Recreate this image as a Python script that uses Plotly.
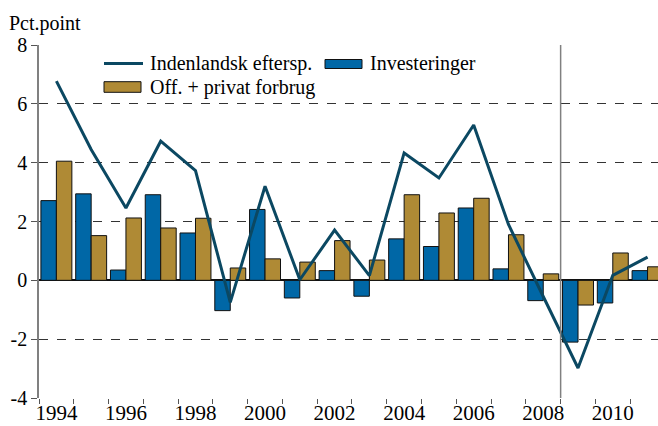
import plotly.graph_objects as go

years = list(range(1994, 2012))
investeringer = [2.71, 2.94, 0.35, 2.91, 1.61, -1.03, 2.41, -0.60, 0.33, -0.54,
                 1.41, 1.15, 2.46, 0.39, -0.69, -2.10, -0.77, 0.33]
forbrug = [4.05, 1.52, 2.12, 1.78, 2.11, 0.42, 0.73, 0.62, 1.35, 0.69,
           2.91, 2.29, 2.79, 1.55, 0.22, -0.84, 0.93, 0.46]
indenlandsk = [6.77, 4.45, 2.46, 4.73, 3.73, -0.75, 3.20, 0.02, 1.71, 0.16,
               4.33, 3.48, 5.28, 1.90, -0.55, -2.98, 0.17, 0.79]
tick_years = [1994, 1996, 1998, 2000, 2002, 2004, 2006, 2008, 2010]
y_ticks = [-4, -2, 0, 2, 4, 6, 8]
names = ["Indenlandsk eftersp.", "Investeringer", "Off. + privat forbrug"]

FONT = "Liberation Serif, Times New Roman, serif"
C_LINE, C_BLUE, C_GOLD = "#0B4862", "#0067A6", "#AF8A35"

# plot area in pixels
L, R, T, B = 39, 658, 45, 398


def px(x):
    return (x - L) / (R - L)


def py(y):
    return (B - y) / (B - T)


fig = go.Figure()
fig.add_trace(go.Scatter(x=years, y=indenlandsk, mode="lines", name=names[0],
                         line=dict(color=C_LINE, width=3), showlegend=False))
fig.add_trace(go.Bar(x=years, y=investeringer, name=names[1], showlegend=False,
                     marker=dict(color=C_BLUE, line=dict(color="#111111", width=1))))
fig.add_trace(go.Bar(x=years, y=forbrug, name=names[2], showlegend=False,
                     marker=dict(color=C_GOLD, line=dict(color="#111111", width=1))))

# vertical separator
fig.add_shape(type="line", x0=2008.5, x1=2008.5, y0=-4, y1=8, xref="x", yref="y",
              line=dict(color="#808080", width=1.5), layer="above")

# legend (drawn)
fig.add_shape(type="line", xref="paper", yref="paper", x0=px(104), x1=px(143),
              y0=py(63.5), y1=py(63.5), line=dict(color=C_LINE, width=3))
fig.add_shape(type="rect", xref="paper", yref="paper", x0=px(325), x1=px(362),
              y0=py(68.5), y1=py(59.5), fillcolor=C_BLUE, line=dict(color="#111111", width=1))
fig.add_shape(type="rect", xref="paper", yref="paper", x0=px(104), x1=px(141),
              y0=py(92.3), y1=py(81.7), fillcolor=C_GOLD, line=dict(color="#111111", width=1))

annots = [
    dict(text=names[0], x=px(148), y=py(63.5)),
    dict(text=names[1], x=px(368), y=py(63.5)),
    dict(text=names[2], x=px(148), y=py(87)),
]
annotations = [dict(a, xref="paper", yref="paper", xanchor="left", yanchor="middle",
                    showarrow=False, font=dict(family=FONT, size=20, color="black"))
               for a in annots]
annotations.append(dict(text="Pct.point", xref="paper", yref="paper", x=px(7), y=py(23),
                        xanchor="left", yanchor="middle", showarrow=False,
                        font=dict(family=FONT, size=20, color="black")))

fig.update_layout(
    width=658, height=426,
    margin=dict(l=L, r=658 - R, t=T, b=426 - B),
    paper_bgcolor="white", plot_bgcolor="white",
    barmode="group", bargap=0.11, bargroupgap=0,
    font=dict(family=FONT, size=20, color="black"),
    showlegend=False,
    xaxis=dict(range=[1993.5, 2011.3], tickmode="array", tickvals=tick_years,
               ticktext=[str(t) for t in tick_years], ticks="",
               showgrid=False, automargin=False,
               zeroline=False, showline=False,
               minor=dict(tickmode="linear", tick0=1993.5, dtick=1, ticks="outside",
                          ticklen=5, tickcolor="#555555", showgrid=False),
               tickfont=dict(family=FONT, size=21)),
    yaxis=dict(range=[-4, 8], tickmode="array", tickvals=y_ticks, automargin=False,
               ticktext=[str(t) for t in y_ticks], ticks="outside",
               ticklen=6, tickcolor="#555555", showgrid=True, gridcolor="#333333",
               griddash="dash", gridwidth=1, zeroline=True, zerolinecolor="#111111",
               zerolinewidth=1.5, showline=True, linecolor="#808080", linewidth=1.5,
               tickfont=dict(family=FONT, size=20)),
    annotations=annotations,
)

fig.write_html("out.html", config={"displayModeBar": False},
               post_script="document.body.style.margin='0px';")
